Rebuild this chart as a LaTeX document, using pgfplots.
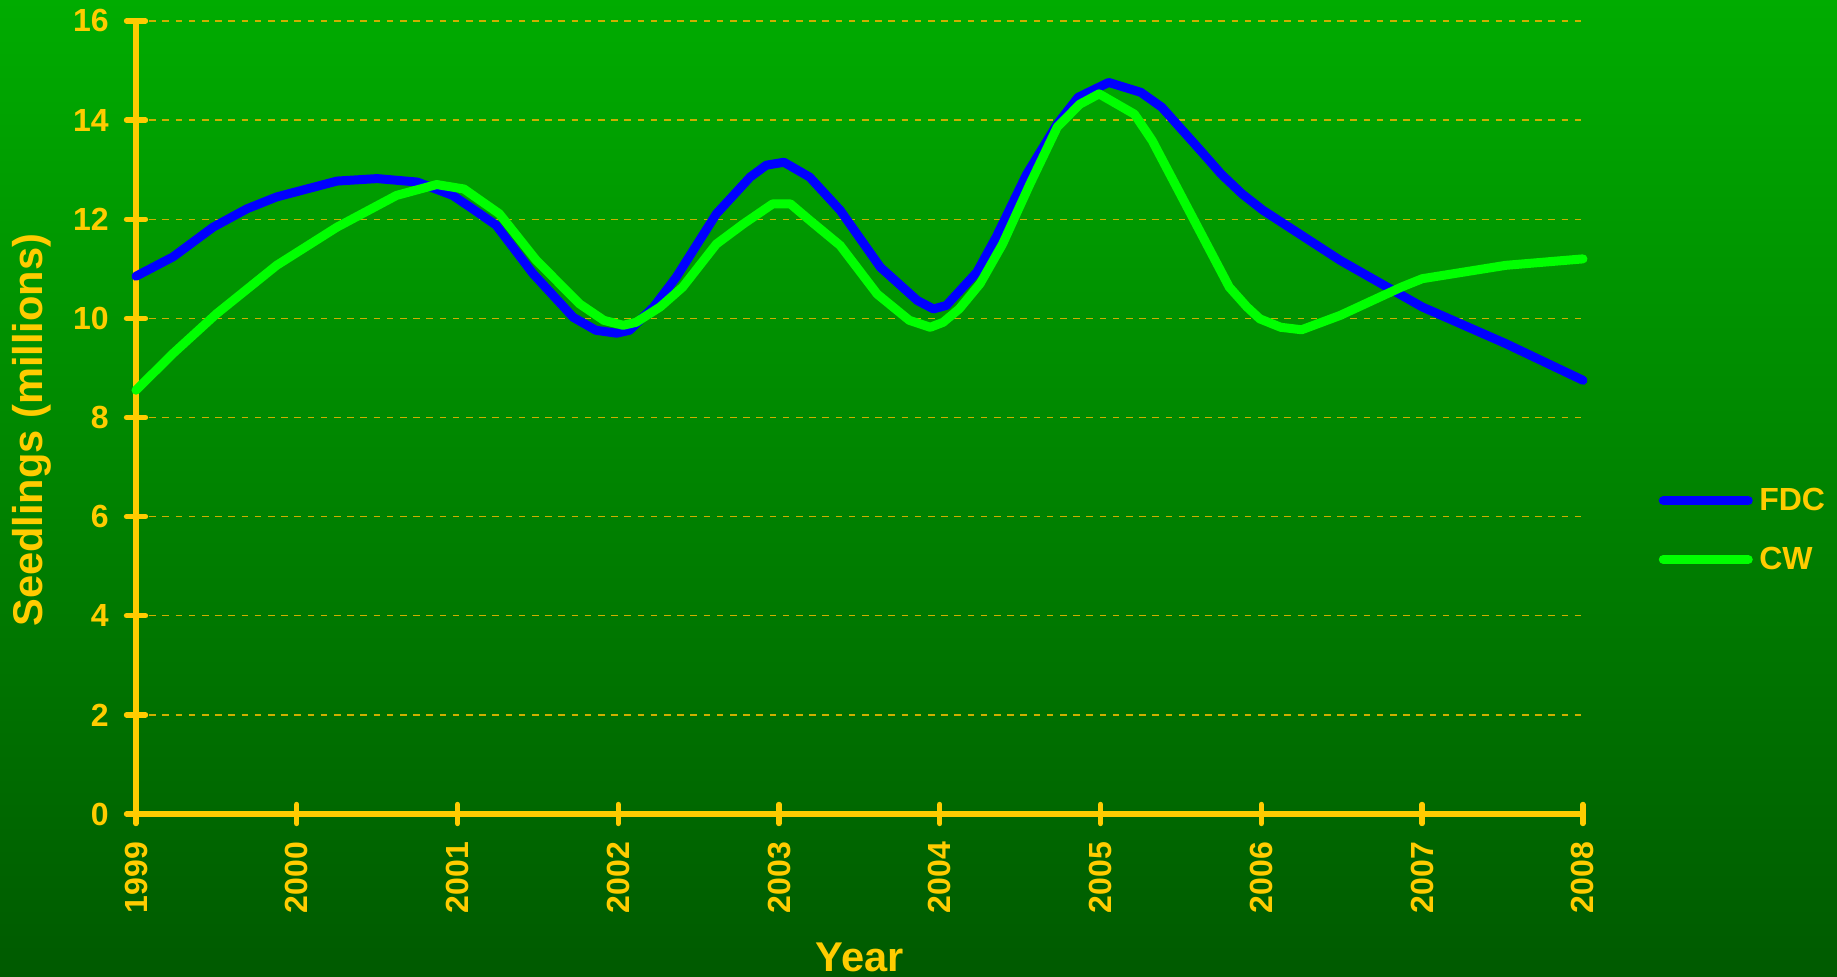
\documentclass[border=0pt]{standalone}
\usepackage{fontspec}
\setmainfont{Liberation Sans}
\usepackage{pgfplots}
\pgfplotsset{compat=1.18}
\definecolor{gold}{RGB}{255,204,0}
\definecolor{gridgold}{RGB}{205,175,0}
\definecolor{bgtop}{RGB}{0,172,0}
\definecolor{bgbot}{RGB}{0,90,0}
\definecolor{fdc}{RGB}{0,0,255}
\definecolor{cw}{RGB}{0,255,0}
\begin{document}
\begin{tikzpicture}
\shade[top color=bgtop, bottom color=bgbot] (0,0) rectangle (918.5pt,488.5pt);
\begin{axis}[
 at={(68pt,81.5pt)}, anchor=south west,
 scale only axis, width=723.5pt, height=396.5pt,
 xmin=1999, xmax=2008, ymin=0, ymax=16,
 xtick={1999,...,2008}, ytick={0,2,...,16},
 axis lines=left,
 axis line style={-, gold, line width=2.7pt, line cap=round},
 major tick length=9.5pt, tick align=center,
 tick style={gold, line width=2.7pt, line cap=round},
 ymajorgrids,
 grid style={gridgold, line width=0.65pt, dash pattern=on 3.3pt off 3.3pt},
 /pgf/number format/1000 sep={},
 /pgf/number format/assume math mode=true,
 ticklabel style={font=\fontsize{16}{19}\selectfont\bfseries, text=gold, inner sep=0pt},
 yticklabel style={anchor=east, xshift=-8.75pt},
 xticklabel style={yshift=-9.1pt, rotate=90, anchor=east},
 label style={font=\fontsize{20.8}{24}\selectfont\bfseries, text=gold},
 xlabel={Year}, ylabel={Seedlings (millions)},
 xlabel style={at={(axis description cs:0.5,-0.1989)}, anchor=base},
 ylabel style={at={(axis description cs:-0.0719,0.484)}, anchor=center},
 legend style={at={(axis description cs:1.0521,0.4115)}, anchor=north west,
   draw=none, fill=none, inner sep=0pt, nodes={inner sep=0pt},
   column sep=3.25pt, row sep=16.7pt,
   font=\fontsize{16}{19}\selectfont\bfseries, text=gold},
 legend cell align=left,
 legend image code/.code={\draw[#1, line cap=round] (0pt,0pt) -- (42.5pt,0pt);},
 clip=false,
]
\addplot[fdc, line width=4.5pt, line join=round, line cap=round] coordinates {
(1999.00,10.85) (1999.23,11.24) (1999.48,11.84) (1999.69,12.21) (1999.875,12.45)
(2000.25,12.77) (2000.50,12.82) (2000.75,12.75) (2000.97,12.48) (2001.08,12.24)
(2001.24,11.88) (2001.47,10.90) (2001.72,10.02) (2001.86,9.76) (2001.99,9.70)
(2002.07,9.76) (2002.22,10.23) (2002.36,10.83) (2002.61,12.11) (2002.82,12.85)
(2002.92,13.09) (2003.03,13.15) (2003.19,12.85) (2003.38,12.18) (2003.63,11.03)
(2003.86,10.36) (2003.96,10.19) (2004.04,10.26) (2004.23,10.93) (2004.35,11.64)
(2004.54,12.91) (2004.73,13.92) (2004.86,14.46) (2005.05,14.76) (2005.25,14.56)
(2005.38,14.26) (2005.62,13.39) (2005.75,12.91) (2005.88,12.51) (2006.01,12.18)
(2006.49,11.17) (2007.00,10.23) (2007.52,9.49) (2008.00,8.75)
};
\addlegendentry{FDC}
\addplot[cw, line width=4.5pt, line join=round, line cap=round] coordinates {
(1999.00,8.55) (1999.23,9.29) (1999.50,10.09) (1999.875,11.07) (2000.25,11.84)
(2000.62,12.48) (2000.87,12.70) (2001.04,12.61) (2001.26,12.11) (2001.49,11.17)
(2001.76,10.29) (2001.91,9.96) (2002.03,9.86) (2002.11,9.92) (2002.26,10.23)
(2002.40,10.63) (2002.61,11.50) (2002.78,11.91) (2002.96,12.31) (2003.07,12.31)
(2003.19,11.98) (2003.38,11.47) (2003.61,10.49) (2003.81,9.96) (2003.94,9.82)
(2004.02,9.92) (2004.12,10.19) (2004.25,10.70) (2004.39,11.50) (2004.56,12.71)
(2004.73,13.86) (2004.87,14.32) (2004.99,14.53) (2005.21,14.12) (2005.32,13.59)
(2005.56,12.11) (2005.80,10.63) (2005.91,10.23) (2005.99,9.99) (2006.12,9.82)
(2006.25,9.77) (2006.49,10.06) (2006.87,10.63) (2007.00,10.80) (2007.52,11.07)
(2008.00,11.20)
};
\addlegendentry{CW}
\end{axis}
\pgfresetboundingbox
\useasboundingbox (0,0) rectangle (918.5pt,488.5pt);
\end{tikzpicture}
\end{document}
